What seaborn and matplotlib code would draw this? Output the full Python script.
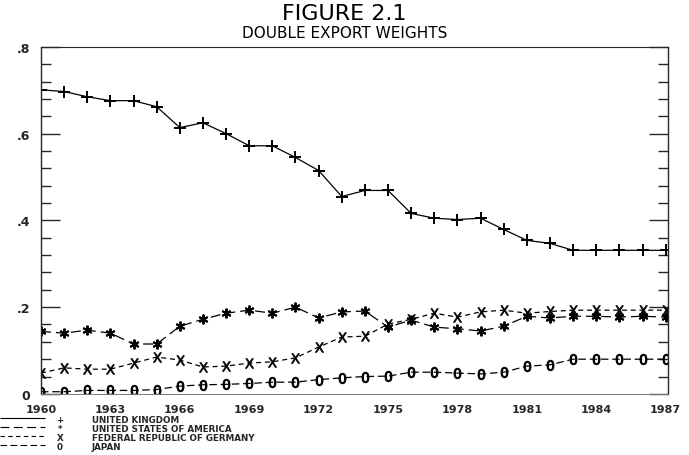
import numpy as np
import pandas as pd
import matplotlib
matplotlib.use("Agg")
import matplotlib.pyplot as plt
from matplotlib.ticker import MultipleLocator
import seaborn as sns

# -------- Data --------
years = list(range(1960, 1988))
uk = [0.701, 0.697, 0.685, 0.676, 0.676, 0.662, 0.614, 0.625, 0.600, 0.572,
      0.572, 0.545, 0.515, 0.455, 0.469, 0.469, 0.416, 0.405, 0.402, 0.405,
      0.379, 0.354, 0.347, 0.331, 0.331, 0.331, 0.331, 0.331]
usa = [0.144, 0.140, 0.147, 0.140, 0.115, 0.115, 0.156, 0.172, 0.186, 0.193,
       0.186, 0.200, 0.175, 0.189, 0.191, 0.154, 0.170, 0.154, 0.150, 0.145,
       0.156, 0.179, 0.175, 0.179, 0.179, 0.177, 0.179, 0.177]
frg = [0.048, 0.060, 0.057, 0.057, 0.071, 0.085, 0.078, 0.062, 0.064, 0.071,
       0.074, 0.083, 0.108, 0.131, 0.133, 0.161, 0.172, 0.186, 0.177, 0.189,
       0.193, 0.186, 0.190, 0.193, 0.193, 0.193, 0.193, 0.193]
japan = [0.005, 0.005, 0.008, 0.008, 0.008, 0.010, 0.018, 0.021, 0.022, 0.024,
         0.027, 0.027, 0.033, 0.037, 0.040, 0.041, 0.050, 0.050, 0.048, 0.046,
         0.050, 0.064, 0.067, 0.080, 0.080, 0.080, 0.080, 0.080]
names = ["UNITED KINGDOM", "UNITED STATES OF AMERICA",
         "FEDERAL REPUBLIC OF GERMANY", "JAPAN"]
symbols = ["+", "*", "X", "0"]
xtick_years = list(range(1960, 1988, 3))
ytick_vals = [0, 0.2, 0.4, 0.6, 0.8]
ytick_labels = ["0", ".2", ".4", ".6", ".8"]
# --------------------------------------------

sns.set_style("ticks")
plt.rcParams["font.family"] = ["DejaVu Sans"]

fig = plt.figure(figsize=(6.89, 4.56), dpi=100)
ax = fig.add_axes([0.0595, 0.134, 0.910, 0.761])

styles = [
    dict(marker="+", markersize=8, mew=1.4, dashes=(1, 0)),
    dict(marker=(6, 2, 0), markersize=7, mew=1.4, dashes=(8, 4)),
    dict(marker=r"$\mathrm{X}$", markersize=7, mew=0.5, dashes=(4, 3)),
    dict(marker=r"$\mathrm{0}$", markersize=7.5, mew=0.7, dashes=(6, 3)),
]
for vals, name, st in zip([uk, usa, frg, japan], names, styles):
    df = pd.DataFrame({"year": years, "value": vals})
    sns.lineplot(data=df, x="year", y="value", ax=ax, color="black",
                 linewidth=0.9, marker=st["marker"],
                 markersize=st["markersize"], markeredgewidth=st["mew"],
                 markeredgecolor="black", markerfacecolor="black")
    ax.lines[-1].set_dashes(st["dashes"])

ax.set_xlim(1960, 1987.1)
ax.set_ylim(0, 0.8)
ax.set_xlabel("")
ax.set_ylabel("")

ax.set_xticks(xtick_years)
ax.set_xticklabels([str(y) for y in xtick_years], fontsize=8, fontweight="bold")
ax.tick_params(axis="x", length=0, pad=7)

ax.set_yticks(ytick_vals)
ax.set_yticklabels(ytick_labels, fontsize=9, fontweight="bold")
ax.yaxis.set_minor_locator(MultipleLocator(0.04))
ax.tick_params(axis="y", which="major", direction="in", length=14, width=1.0,
               left=True, right=True, pad=8)
ax.tick_params(axis="y", which="minor", direction="in", length=7, width=1.0,
               left=True, right=True)

for side in ["left", "right", "top"]:
    ax.spines[side].set_visible(True)
    ax.spines[side].set_linewidth(1.0)
ax.spines["top"].set_linewidth(0.8)
ax.spines["bottom"].set_linewidth(0.7)
ax.spines["bottom"].set_color("#777777")
ax.spines["bottom"].set_linestyle((0, (3, 1)))

fig.text(0.5, 1 - 14 / 456, "FIGURE 2.1", ha="center", va="center",
         fontsize=16, color="black")
fig.text(0.5, 1 - 33 / 456, "DOUBLE EXPORT WEIGHTS", ha="center", va="center",
         fontsize=11, color="black")

# legend below the axis
leg_dashes = [(1, 0), (8, 4), (4, 3), (6, 3)]
row_y = [421, 430, 439, 448]
for name, sym, dsh, yy in zip(names, symbols, leg_dashes, row_y):
    yf = 1 - yy / 456
    fig.add_artist(plt.Line2D([0.0, 0.066], [yf + 0.005, yf + 0.005],
                              color="black", lw=0.8, dashes=dsh,
                              transform=fig.transFigure))
    fig.text(0.087, yf, sym, ha="center", va="center", fontsize=6.3,
             fontweight="bold")
    fig.text(0.133, yf, name, ha="left", va="center", fontsize=6.3,
             fontweight="bold")

fig.savefig("out.png", dpi=100)
